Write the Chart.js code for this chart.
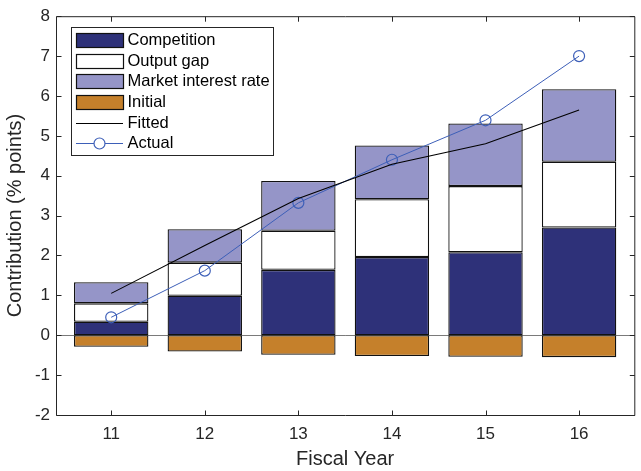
<!DOCTYPE html>
<html>
<head>
<meta charset="utf-8">
<script src="https://cdn.jsdelivr.net/npm/chart.js@4.4.1/dist/chart.umd.min.js"></script>
<style>
  html, body { margin: 0; padding: 0; background: #ffffff; }
  #wrap { width: 641px; height: 471px; }
</style>
</head>
<body>
<div id="wrap"><canvas id="c" width="641" height="471"></canvas></div>
<script>
// Fiscal years on the horizontal axis
const years = [11, 12, 13, 14, 15, 16];
const yTicks = [-2, -1, 0, 1, 2, 3, 4, 5, 6, 7, 8];

// Contributions (% points), stacked per year
const competition = [0.34, 0.99, 1.64, 1.96, 2.08, 2.70];
const outputGap   = [0.46, 0.83, 0.98, 1.45, 1.66, 1.65];
const marketRate  = [0.53, 0.84, 1.25, 1.35, 1.57, 1.82];
const initial     = [-0.29, -0.41, -0.49, -0.52, -0.54, -0.55];

// Model fit and outcome
const fitted = [1.05, 2.25, 3.43, 4.29, 4.80, 5.65];
const actual = [0.45, 1.62, 3.32, 4.40, 5.39, 7.00];

const FONT = "'Liberation Sans', Arial, Helvetica, sans-serif";
const AXIS = '#262626';
const NAVY = '#2e3179';
const LILAC = '#9595c8';
const OCHRE = '#c5802b';
const BLUE = '#3d5fb8';

const pts = arr => years.map((x, i) => ({ x, y: arr[i] }));

const barStyle = {
  type: 'bar', stack: 'bars', order: 1,
  borderColor: '#111111', borderWidth: 1.3, borderSkipped: false,
  categoryPercentage: 1.0, barPercentage: 0.795
};

const legendOrder = ['Competition', 'Output gap', 'Market interest rate', 'Initial', 'Fitted', 'Actual'];

// Axes box, inward tick marks, zero line and the in-plot legend
const frame = {
  id: 'frame',
  beforeDatasetsDraw(chart) {
    const { ctx, chartArea: a, scales: { y } } = chart;
    const y0 = Math.round(y.getPixelForValue(0)) + 0.5;
    ctx.save();
    ctx.strokeStyle = '#7a7a7a';
    ctx.lineWidth = 1;
    ctx.beginPath();
    ctx.moveTo(a.left, y0);
    ctx.lineTo(a.right, y0);
    ctx.stroke();
    ctx.restore();
  },
  afterDatasetsDraw(chart) {
    const { ctx, chartArea: a, scales: { x, y } } = chart;
    const L = a.left + 0.5, R = a.right + 0.5, T = a.top + 0.5, B = a.bottom + 0.5;
    const tl = 5;
    ctx.save();
    ctx.strokeStyle = AXIS;
    ctx.lineWidth = 1;
    ctx.beginPath();
    ctx.rect(L, T, R - L, B - T);
    y.ticks.forEach(t => {
      const py = Math.round(y.getPixelForValue(t.value)) + 0.5;
      ctx.moveTo(L, py); ctx.lineTo(L + tl, py);
      ctx.moveTo(R, py); ctx.lineTo(R - tl, py);
    });
    x.ticks.forEach(t => {
      const px = Math.round(x.getPixelForValue(t.value)) + 0.5;
      ctx.moveTo(px, B); ctx.lineTo(px, B - tl);
      ctx.moveTo(px, T); ctx.lineTo(px, T + tl);
    });
    ctx.stroke();

    // legend
    const bx = 71.5, by = 27.5, bw = 202, bh = 128;
    ctx.fillStyle = '#ffffff';
    ctx.fillRect(bx, by, bw, bh);
    ctx.strokeStyle = AXIS;
    ctx.strokeRect(bx, by, bw, bh);
    const sx0 = 76, sx1 = 123, rowTop = 40, rowStep = 20.66;
    ctx.font = '16.5px ' + FONT;
    ctx.textBaseline = 'middle';
    ctx.textAlign = 'left';
    legendOrder.forEach((name, i) => {
      const ds = chart.data.datasets.find(d => d.label === name);
      const cy = rowTop + i * rowStep;
      if (ds.type === 'bar') {
        ctx.fillStyle = ds.backgroundColor;
        ctx.fillRect(sx0 + 0.5, Math.round(cy - 7) + 0.5, sx1 - sx0, 14);
        ctx.strokeStyle = '#111111';
        ctx.lineWidth = 1.2;
        ctx.strokeRect(sx0 + 0.5, Math.round(cy - 7) + 0.5, sx1 - sx0, 14);
      } else {
        const ly = Math.round(cy) + 0.5;
        ctx.strokeStyle = ds.borderColor;
        ctx.lineWidth = 1;
        ctx.beginPath();
        ctx.moveTo(sx0, ly); ctx.lineTo(sx1, ly);
        ctx.stroke();
        if (ds.pointRadius > 0) {
          ctx.fillStyle = '#ffffff';
          ctx.lineWidth = ds.pointBorderWidth;
          ctx.beginPath();
          ctx.arc((sx0 + sx1) / 2, ly, ds.pointRadius, 0, Math.PI * 2);
          ctx.fill();
          ctx.stroke();
        }
      }
      ctx.fillStyle = '#000000';
      ctx.fillText(name, 127.5, cy + 0.5);
    });
    ctx.restore();
  }
};

new Chart(document.getElementById('c'), {
  type: 'bar',
  data: {
    datasets: [
      { type: 'line', label: 'Fitted', data: pts(fitted), stack: 'fitted', order: 0,
        borderColor: '#000000', borderWidth: 1.1, pointRadius: 0, tension: 0, fill: false },
      { type: 'line', label: 'Actual', data: pts(actual), stack: 'actual', order: 0,
        borderColor: BLUE, borderWidth: 1, tension: 0, fill: false,
        pointRadius: 5.5, pointStyle: 'circle', pointBorderColor: BLUE,
        pointBackgroundColor: 'rgba(0,0,0,0)', pointBorderWidth: 1.2 },
      { ...barStyle, label: 'Competition', data: pts(competition), backgroundColor: NAVY },
      { ...barStyle, label: 'Output gap', data: pts(outputGap), backgroundColor: '#ffffff' },
      { ...barStyle, label: 'Market interest rate', data: pts(marketRate), backgroundColor: LILAC },
      { ...barStyle, label: 'Initial', data: pts(initial), backgroundColor: OCHRE }
    ]
  },
  options: {
    responsive: false,
    animation: false,
    devicePixelRatio: 1,
    layout: { padding: { top: 12, right: 1, left: 0, bottom: 0 } },
    plugins: { legend: { display: false }, tooltip: { enabled: false } },
    scales: {
      x: {
        type: 'linear', stacked: true, offset: false,
        min: 10.41, max: 16.59,
        afterBuildTicks: s => { s.ticks = years.map(v => ({ value: v })); },
        afterFit: s => { s.height = 56; },
        grid: { display: false, drawTicks: false, offset: false },
        border: { display: false },
        ticks: { padding: 9, color: AXIS, font: { family: FONT, size: 17 }, includeBounds: false },
        title: { display: true, text: 'Fiscal Year', color: AXIS,
                 font: { family: FONT, size: 20 }, padding: { top: 0, bottom: 0 } }
      },
      y: {
        type: 'linear', stacked: true,
        min: -2, max: 8,
        afterBuildTicks: s => { s.ticks = yTicks.map(v => ({ value: v })); },
        afterFit: s => { s.width = 56; },
        grid: { display: false, drawTicks: false },
        border: { display: false },
        ticks: { padding: 6, color: AXIS, font: { family: FONT, size: 17 } },
        title: { display: true, text: 'Contribution (% points)', color: AXIS,
                 font: { family: FONT, size: 20 }, padding: { top: 3, bottom: 0 } }
      }
    }
  },
  plugins: [frame]
});
</script>
</body>
</html>
